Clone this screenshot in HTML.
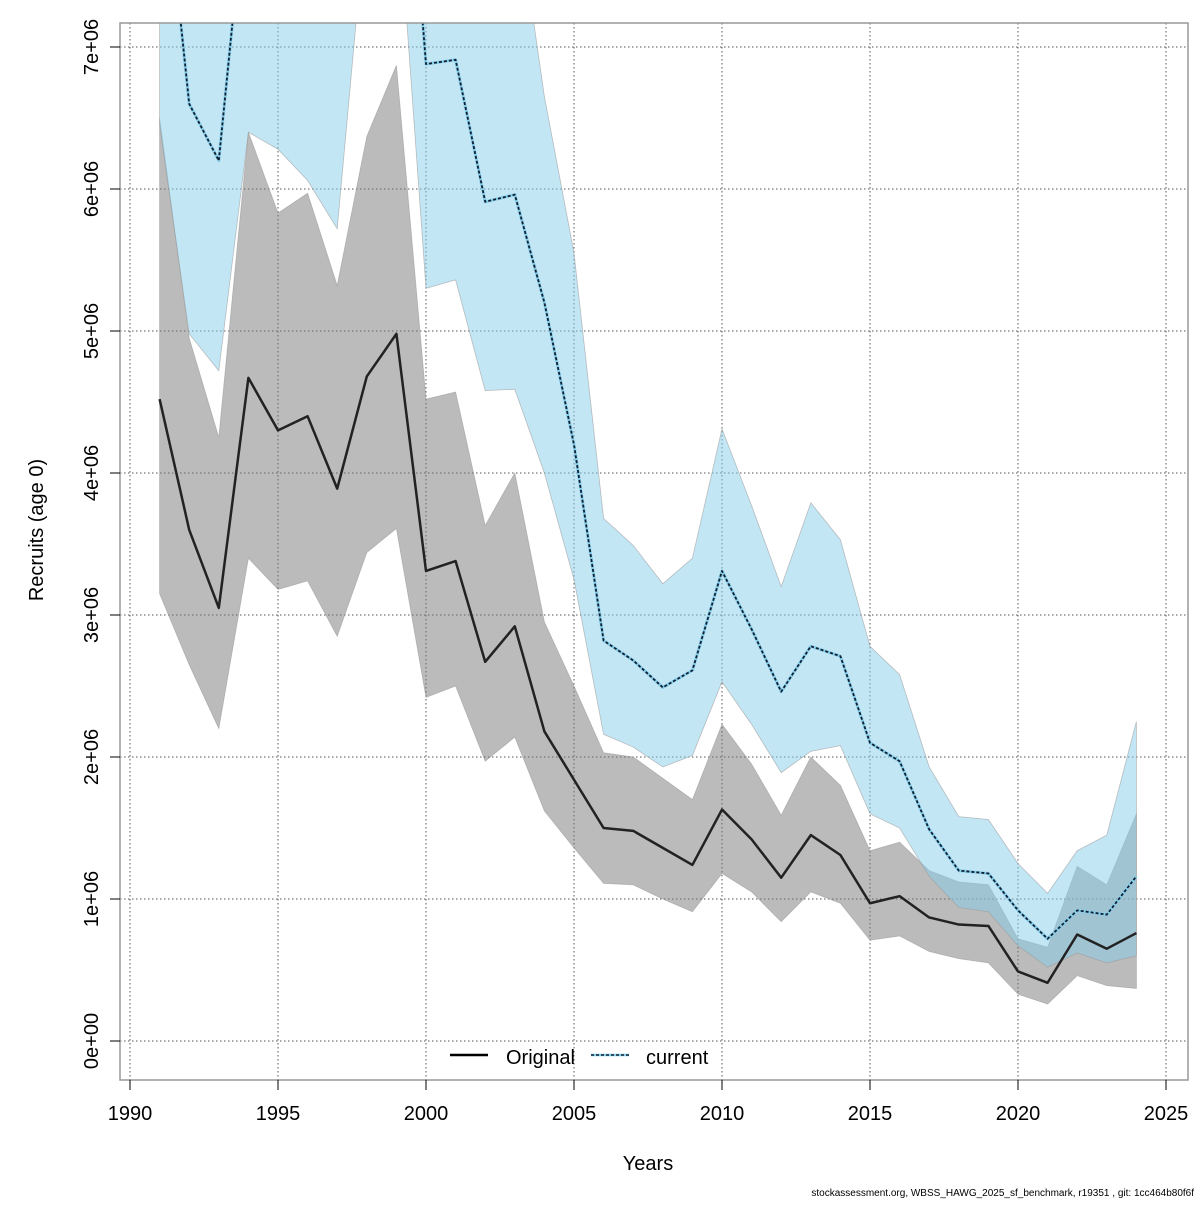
<!DOCTYPE html>
<html><head><meta charset="utf-8"><style>
body{margin:0;background:#fff;}
svg text{font-family:"Liberation Sans",sans-serif;}
</style></head><body>
<svg id="chart" width="1200" height="1200" xmlns="http://www.w3.org/2000/svg">
<defs><clipPath id="clip"><rect x="120" y="23" width="1068" height="1057"/></clipPath></defs>
<g id="grid"></g>
<g id="bands" clip-path="url(#clip)"></g>
<g id="lines" clip-path="url(#clip)"></g>
<rect x="120" y="23" width="1068" height="1057" fill="none" stroke="#999" stroke-width="1.5"/>
<g id="axes"></g>
<text x="648" y="1170" text-anchor="middle" font-size="20">Years</text>
<text transform="translate(43,530) rotate(-90)" text-anchor="middle" font-size="20">Recruits (age 0)</text>
<g>
<line x1="450" y1="1055" x2="488" y2="1055" stroke="#000" stroke-width="2.5"/>
<text x="506" y="1064" font-size="20">Original</text>
<line x1="591" y1="1055" x2="629" y2="1055" stroke="#87ceeb" stroke-width="2.5"/>
<line x1="591" y1="1055" x2="629" y2="1055" stroke="#123" stroke-width="1.5" stroke-dasharray="3,2"/>
<text x="646" y="1064" font-size="20">current</text>
</g>
<text x="1194" y="1196" text-anchor="end" font-size="10">stockassessment.org, WBSS_HAWG_2025_sf_benchmark, r19351 , git: 1cc464b80f6f</text>
</svg>
<script>
const years=[1991,1992,1993,1994,1995,1996,1997,1998,1999,2000,2001,2002,2003,2004,2005,2006,2007,2008,2009,2010,2011,2012,2013,2014,2015,2016,2017,2018,2019,2020,2021,2022,2023,2024];
const origMean=[4.52,3.6,3.05,4.67,4.3,4.4,3.89,4.68,4.98,3.31,3.38,2.67,2.92,2.18,1.84,1.50,1.48,1.36,1.24,1.63,1.42,1.15,1.45,1.31,0.97,1.02,0.87,0.82,0.81,0.49,0.41,0.75,0.65,0.76];
const origHigh=[6.5,4.95,4.25,6.4,5.83,5.97,5.32,6.37,6.87,4.52,4.57,3.63,4.0,2.95,2.5,2.03,2.0,1.85,1.7,2.23,1.95,1.59,2.0,1.8,1.34,1.4,1.2,1.12,1.1,0.72,0.66,1.23,1.1,1.6];
const origLow=[3.15,2.65,2.2,3.4,3.18,3.24,2.85,3.44,3.61,2.42,2.5,1.97,2.14,1.62,1.36,1.11,1.1,1.0,0.91,1.18,1.05,0.84,1.05,0.97,0.71,0.74,0.63,0.58,0.55,0.33,0.26,0.46,0.39,0.37];
const curMean=[8.6,6.6,6.2,8.3,9,9,9,9,9.5,6.88,6.91,5.91,5.96,5.2,4.2,2.82,2.68,2.49,2.61,3.31,2.9,2.46,2.78,2.71,2.1,1.97,1.49,1.2,1.18,0.92,0.72,0.92,0.89,1.16];
const curHigh=[12,11,11,12,12,12,12,12,12,11,10,9,8.1,6.65,5.55,3.68,3.49,3.22,3.4,4.31,3.77,3.2,3.79,3.53,2.78,2.58,1.93,1.58,1.56,1.25,1.04,1.34,1.45,2.25];
const curLow=[6.45,4.98,4.72,6.4,6.28,6.06,5.72,8.0,8.2,5.3,5.36,4.58,4.59,4.0,3.25,2.16,2.07,1.93,2.01,2.53,2.23,1.89,2.04,2.08,1.6,1.5,1.16,0.94,0.91,0.67,0.52,0.62,0.55,0.6];
const xTicks=[1990,1995,2000,2005,2010,2015,2020,2025];
const yTicks=[0,1,2,3,4,5,6,7];
const yLabels=["0e+00","1e+06","2e+06","3e+06","4e+06","5e+06","6e+06","7e+06"];
const X=y=>130+(y-1990)*(1036/35);
const Y=v=>1041-v*142;
const NS="http://www.w3.org/2000/svg";
function mk(tag,attrs,parent){const e=document.createElementNS(NS,tag);for(const k in attrs)e.setAttribute(k,attrs[k]);parent.appendChild(e);return e;}
const grid=document.getElementById('grid'),axes=document.getElementById('axes'),bands=document.getElementById('bands'),lines=document.getElementById('lines');
xTicks.forEach(t=>{
 const g=mk('line',{x1:X(t),x2:X(t),y1:23,y2:1080,stroke:'#555','stroke-dasharray':'1.5,2.5','stroke-width':1},grid);
 
 
 const tk=mk('line',{x1:X(t),x2:X(t),y1:1080,y2:1090,stroke:'#000','stroke-width':1},axes);
 
 
 const tx=mk('text',{x:X(t),y:1120,'text-anchor':'middle','font-size':20},axes);
 tx.textContent=t;
 
 
});
yTicks.forEach((t,i)=>{
 const g=mk('line',{x1:120,x2:1188,y1:Y(t),y2:Y(t),stroke:'#555','stroke-dasharray':'1.5,2.5','stroke-width':1},grid);
 
 
 const tk=mk('line',{x1:110,x2:120,y1:Y(t),y2:Y(t),stroke:'#000','stroke-width':1},axes);
 
 
 const tx=mk('text',{transform:`translate(98,${Y(t)}) rotate(-90)`,'text-anchor':'middle','font-size':20},axes);
 tx.textContent=yLabels[i];
 
 
});
function band(hi,lo,fill,name){
 let d='M'+years.map((y,i)=>X(y)+','+Y(hi[i])).join('L');
 d+='L'+years.slice().reverse().map((y,j)=>{const i=years.length-1-j;return X(y)+','+Y(lo[i]);}).join('L')+'Z';
 const p=mk('path',{d:d,fill:fill,stroke:'#999','stroke-width':0.8,'stroke-opacity':0.6},bands);
 
 
}
band(origHigh,origLow,'rgba(120,120,120,0.5)','original-ci-band');
band(curHigh,curLow,'rgba(135,206,235,0.5)','current-ci-band');
function line(vals,color,w,dash,name){
 const p=mk('polyline',{points:years.map((y,i)=>X(y)+','+Y(vals[i])).join(' '),fill:'none',stroke:color,'stroke-width':w,'stroke-linejoin':'round'},lines);
 if(dash)p.setAttribute('stroke-dasharray',dash);
 
 
}
line(origMean,'#222',2.5,null,'original-line');
line(curMean,'#87ceeb',3,null,'current-line');
line(curMean,'#102030',1.8,'3,2','current-line-dash');
</script>
</body></html>
